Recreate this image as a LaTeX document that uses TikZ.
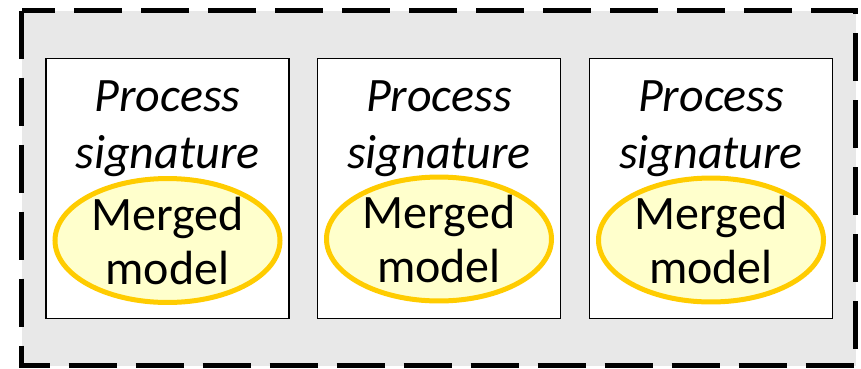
\documentclass[tikz,border=0pt]{standalone}
\usepackage{fontspec}
\setmainfont{Carlito}
\usepackage{tikz}
\usetikzlibrary{positioning, shapes.geometric}

\definecolor{panelgrey}{HTML}{E8E8E8}
\definecolor{modelfill}{HTML}{FFFFCC}
\definecolor{modeldraw}{HTML}{FFCC00}

\begin{document}
\begin{tikzpicture}[
    x=1pt, y=-1pt,
    frame/.style={draw, line width=5pt, dash pattern=on 48pt off 19pt, fill=panelgrey},
    sigbox/.style={draw, line width=1.4pt, fill=white, minimum width=243pt, minimum height=260pt},
    sigtext/.style={align=center, inner sep=0pt, font=\fontsize{48}{57}\selectfont\itshape},
    model/.style={ellipse, draw=modeldraw, line width=5pt, fill=modelfill, inner sep=0pt,
                  minimum width=225pt, minimum height=102pt, align=center,
                  font=\fontsize{48}{54}\selectfont}
]
\useasboundingbox (0,0) rectangle (861,368);

% --- Outer frame ---
\draw[frame] (21.5,10.5) rectangle (855.5,365.5);

% --- Signature boxes ---
\node[sigbox] (box1) at (167.5,188.3) {};
\node[sigbox] (box2) at (439,188.3) {};
\node[sigbox] (box3) at (711,188.3) {};

\node[sigtext] (sig1) at (167.5,128.5) {Process\\signature};
\node[sigtext] (sig2) at (439,128.5) {Process\\signature};
\node[sigtext] (sig3) at (711,128.5) {Process\\signature};

% --- Merged models ---
\node[model] (model1) at (167.5,240.5) {Merged\\model};
\node[model] (model2) at (439,239) {Merged\\model};
\node[model] (model3) at (711,240) {Merged\\model};

\end{tikzpicture}
\end{document}
